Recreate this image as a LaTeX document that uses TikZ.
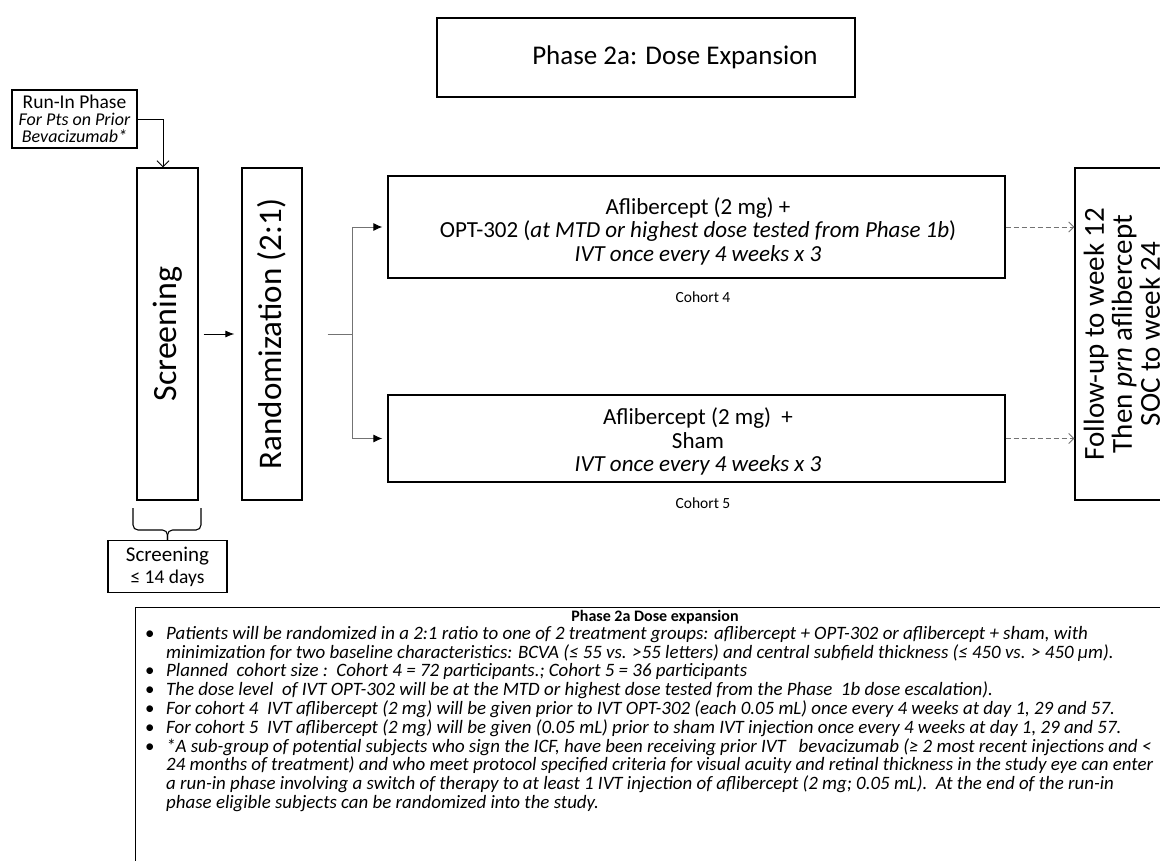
\documentclass[tikz,border=0pt]{standalone}
\usepackage{fontspec}
\setmainfont{Carlito}
\usetikzlibrary{arrows.meta}

\newcommand{\noteitem}[1]{\makebox[21pt][l]{\upshape\textbullet}#1}
\newcommand{\notecont}[1]{\hspace*{21pt}#1}

\begin{document}
\begin{tikzpicture}[x=1pt,y=-1pt,
    box/.style={draw, line width=1.3pt, inner sep=0pt},
    vbox/.style={box, rotate=90, minimum width=332pt},
    armtext/.style={align=center, font=\fontsize{23}{23.5}\selectfont},
    link/.style={draw=black!55, line width=0.9pt}]
    \useasboundingbox (0,0) rectangle (1160,860);
    \clip (0,0) rectangle (1160,860);

    \node[box, minimum width=418pt, minimum height=79pt, font=\fontsize{27}{32}\selectfont] (title) at (646,57.5) {\hspace*{58pt}Phase 2a: Dose Expansion};

    \node[box, minimum width=125pt, minimum height=58pt, align=center, font=\fontsize{19.5}{17}\selectfont] (runin) at (74.5,119) {Run-In Phase\\\fontsize{18}{17}\selectfont\textit{For Pts on Prior}\\\fontsize{18}{17}\selectfont\textit{Bevacizumab*}};

    \node[vbox, minimum height=61pt, font=\fontsize{34}{38}\selectfont] (screen) at (167.5,334) {Screening};
    \node[vbox, minimum height=60pt, font=\fontsize{33}{38}\selectfont] (rand) at (272,334) {Randomization (2:1)};

    \node[box, minimum width=617pt, minimum height=102pt] (coh4) at (696.5,227) {};
    \node[armtext] (coh4text) at (698,231) {Aflibercept (2 mg) +\\OPT-302 (\textit{at MTD or highest dose tested from Phase 1b})\\\textit{IVT once every 4 weeks x 3}};
    \node[font=\fontsize{15.5}{18}\selectfont] (lab4) at (703,297) {Cohort 4};

    \node[box, minimum width=617pt, minimum height=87pt] (coh5) at (696.5,438.5) {};
    \node[armtext] (coh5text) at (698,441.5) {Aflibercept (2 mg)\ \ +\\Sham\\\textit{IVT once every 4 weeks x 3}};
    \node[font=\fontsize{15.5}{18}\selectfont] (lab5) at (703,503) {Cohort 5};

    \node[vbox, minimum height=94pt, align=center, font=\fontsize{29}{28}\selectfont] (follow) at (1122,334) {Follow-up to week 12\\Then \textit{prn} aflibercept\\SOC to week 24};

    \coordinate (bracetip) at (167.5,540);
    \draw[line width=1.1pt, rounded corners=5pt] (133,508) |- (bracetip |- 0,530) -- (bracetip);
    \draw[line width=1.1pt, rounded corners=5pt] (201,508) |- (bracetip |- 0,530) -- (bracetip);
    \node[box, anchor=north, minimum width=119pt, minimum height=52pt, align=center, font=\fontsize{21}{22}\selectfont] (screendays) at (bracetip) {Screening\\\fontsize{19.5}{22}\selectfont ≤ 14 days};

    \draw[line width=0.9pt, -{Straight Barb[length=6pt,width=12pt]}] (runin.east) -| ([xshift=-4.5pt]screen.east);
    \draw[line width=0.9pt, -{Latex[length=9pt,width=7pt]}] ([xshift=5pt]screen.south) -- ([xshift=-7pt]rand.north);
    \coordinate (fork) at ([xshift=50pt]rand.south);
    \draw[link] ([xshift=25pt]rand.south) -- (fork);
    \draw[link, -{Latex[length=9pt,width=8pt,color=black]}] (fork) |- ([xshift=-5pt]coh4.west);
    \draw[link, -{Latex[length=9pt,width=8pt,color=black]}] (fork) |- ([xshift=-5pt]coh5.west);
    \draw[link, dashed, dash pattern=on 5pt off 3pt, -{Straight Barb[length=5pt,width=10pt]}] (coh4.east) -- (coh4.east -| follow.north);
    \draw[link, dashed, dash pattern=on 5pt off 3pt, -{Straight Barb[length=5pt,width=10pt]}] (coh5.east) -- (coh5.east -| follow.north);

    \node[box, anchor=north west, minimum width=1040pt, minimum height=270pt] (notes) at (135,607) {};
    \node[font=\fontsize{16}{18}\selectfont\bfseries] (notestitle) at (655,617) {Phase 2a Dose expansion};
    \node[anchor=north west, inner sep=0pt, align=left, font=\fontsize{18.9}{18.8}\selectfont\itshape] (noteslist) at (145,626) {%
        \noteitem{Patients will be randomized in a 2:1 ratio to one of 2 treatment groups: aflibercept + OPT-302 or aflibercept + sham, with}\\
        \notecont{minimization for two baseline characteristics: BCVA (≤ 55 vs. >55 letters) and central subfield thickness (≤ 450 vs. > 450 µm).}\\
        \noteitem{Planned\ \ cohort size :\ \ Cohort 4 = 72 participants.; Cohort 5 = 36 participants}\\
        \noteitem{The dose level\ \ of IVT OPT-302 will be at the MTD or highest dose tested from the Phase\ \ 1b dose escalation).}\\
        \noteitem{For cohort 4\ \ IVT aflibercept (2 mg) will be given prior to IVT OPT-302 (each 0.05 mL) once every 4 weeks at day 1, 29 and 57.}\\
        \noteitem{For cohort 5\ \ IVT aflibercept (2 mg) will be given (0.05 mL) prior to sham IVT injection once every 4 weeks at day 1, 29 and 57.}\\
        \noteitem{*A sub-group of potential subjects who sign the ICF, have been receiving prior IVT\ \ \ bevacizumab (≥ 2 most recent injections and <}\\
        \notecont{24 months of treatment) and who meet protocol specified criteria for visual acuity and retinal thickness in the study eye can enter}\\
        \notecont{a run-in phase involving a switch of therapy to at least 1 IVT injection of aflibercept (2 mg; 0.05 mL).\ \ At the end of the run-in}\\
        \notecont{phase eligible subjects can be randomized into the study.}};
\end{tikzpicture}
\end{document}
